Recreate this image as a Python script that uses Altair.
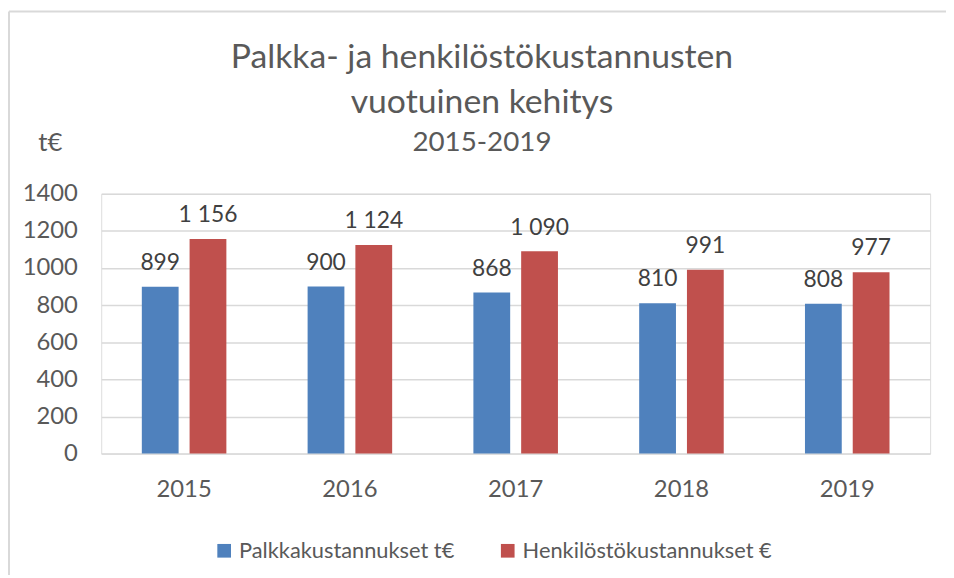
import altair as alt
import pandas as pd

years = ["2015", "2016", "2017", "2018", "2019"]
palkka = [899, 900, 868, 810, 808]
henk = [1156, 1124, 1090, 991, 977]
series = ["Palkkakustannukset t€", "Henkilöstökustannukset €"]
colors = ["#4F81BD", "#C0504D"]

rows = []
for i, y in enumerate(years):
    for s, vals in zip(series, [palkka, henk]):
        v = vals[i]
        rows.append({"year": y, "series": s, "value": v,
                     "label": f"{v:,}".replace(",", " ")})
df = pd.DataFrame(rows)

FONT = "Lato"
GREY = "#595959"

x = alt.X("year:N", title=None,
          scale=alt.Scale(paddingInner=0.49, paddingOuter=0.245),
          axis=alt.Axis(labelAngle=0, domain=False, ticks=False, labelPadding=24,
                        labelFontSize=24, labelColor=GREY, labelFont=FONT))
xo = alt.XOffset("series:N", sort=series,
                 scale=alt.Scale(paddingInner=0.23, paddingOuter=0))
y = alt.Y("value:Q", title="t€",
          scale=alt.Scale(domain=[0, 1400], nice=False),
          axis=alt.Axis(values=list(range(0, 1401, 200)), format="d", domain=False, ticks=False,
                        labelPadding=24, labelFontSize=24, labelColor=GREY, labelFont=FONT,
                        gridColor="#D9D9D9", gridWidth=1.5,
                        titleAngle=0, titleAlign="left", titleBaseline="alphabetic",
                        titleX=-64, titleY=-44, titleFontSize=26, titleFontWeight="normal",
                        titleColor=GREY, titleFont=FONT))

base = alt.Chart(df)
bars = base.mark_bar().encode(
    x=x, xOffset=xo, y=y,
    color=alt.Color("series:N", sort=series,
                    scale=alt.Scale(domain=series, range=colors),
                    legend=alt.Legend(title=None, orient="none", direction="horizontal",
                                      legendX=113, legendY=349, symbolType="square",
                                      symbolSize=190, symbolStrokeWidth=0,
                                      labelFontSize=22, labelColor=GREY, labelFont=FONT,
                                      labelLimit=0,
                                      columnPadding=42, symbolOffset=0, labelOffset=4)),
)
labels = base.mark_text(baseline="bottom", dy=-12, fontSize=23, color="#404040",
                        font=FONT).encode(
    x=x, xOffset=xo, y=y, text="label:N")

frame_df = pd.DataFrame({"k": [0]})
frame_left = alt.Chart(frame_df).mark_rule(color="#D9D9D9", strokeWidth=2).encode(
    x=alt.value(-93), y=alt.value(-184), y2=alt.value(400))
frame_top = alt.Chart(frame_df).mark_rule(color="#D9D9D9", strokeWidth=2).encode(
    x=alt.value(-93), x2=alt.value(900), y=alt.value(-184))

chart = alt.layer(frame_left, frame_top, bars, labels).properties(
    width=836, height=262,
    autosize=alt.AutoSizeParams(type="none"),
    padding={"left": 94, "top": 185, "right": 16, "bottom": 120},
    title=alt.Title(
        text=["Palkka- ja henkilöstökustannusten", "vuotuinen kehitys"],
        subtitle="2015-2019",
        anchor="middle", dx=-34, offset=-148, frame="group",
        fontSize=34, fontWeight="normal", font=FONT, color=GREY, lineHeight=45,
        subtitleFontSize=28, subtitleFontWeight="normal", subtitleColor=GREY,
        subtitleFont=FONT, subtitlePadding=10,
    ),
).configure_view(stroke=None).configure(background="white")

chart.save("out.html", embed_options={"renderer": "svg", "actions": False})
